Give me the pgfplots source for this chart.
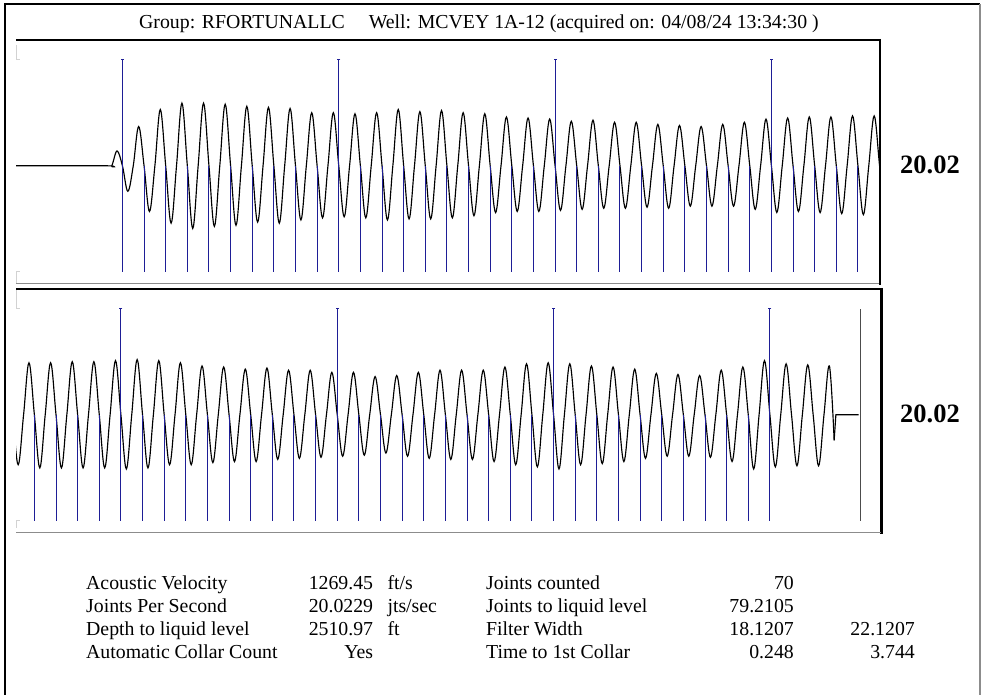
\documentclass[border=0pt]{standalone}
\usepackage{pgfplots}
\pgfplotsset{compat=1.18}
\usepackage{fontspec}
\setmainfont{Liberation Serif}

\definecolor{collar}{RGB}{30,30,150}
\definecolor{edgegray}{RGB}{140,140,140}

\pgfplotsset{
  panel/.style={
    width=864bp, height=244bp, scale only axis,
    hide axis, clip=true, anchor=south west,
    ymin=-1.113, ymax=1.185,
  },
  wave/.style={black, line width=1.15bp, smooth, tension=0.6, no marks},
  short/.style={collar, line width=1bp, ycomb, no marks},
  long/.style={collar, line width=1bp, ycomb, mark=-, mark size=1.5bp, mark options={solid}},
}

\begin{document}
\begin{tikzpicture}[x=1bp,y=1bp]
\path[use as bounding box] (0,0) rectangle (984,695);

% outer frame
\draw[black, line width=1.5bp] (5,0) -- (5,691) -- (980,691);
\draw[edgegray, line width=1.5bp] (980,691) -- (980,0);

\node[anchor=base west, inner sep=0, font=\fontsize{19.8bp}{23bp}\selectfont]
  at (139,666.7) {Group: RFORTUNALLC\hspace{24bp}Well: MCVEY 1A-12 (acquired on: 04/08/24 13:34:30 )};

% ---------- top panel ----------
\begin{axis}[panel, at={(16bp,411bp)}, xmin=-3.92, xmax=36.02]
\addplot[wave] coordinates {
(-3.92,0) (0.25,0) (0.5,0)
(0.75,0.14) (1,0) (1.25,-0.24) (1.5,0)
(1.75,0.37) (2,0) (2.25,-0.43) (2.5,0)
(2.75,0.53) (3,0) (3.25,-0.54) (3.5,0)
(3.75,0.59) (4,0) (4.25,-0.59) (4.5,0)
(4.75,0.59) (5,0) (5.25,-0.57) (5.5,0)
(5.75,0.58) (6,0) (6.25,-0.56) (6.5,0)
(6.75,0.56) (7,0) (7.25,-0.53) (7.5,0)
(7.75,0.55) (8,0) (8.25,-0.54) (8.5,0)
(8.75,0.54) (9,0) (9.25,-0.51) (9.5,0)
(9.75,0.50) (10,0) (10.25,-0.49) (10.5,0)
(10.75,0.50) (11,0) (11.25,-0.48) (11.5,0)
(11.75,0.49) (12,0) (12.25,-0.49) (12.5,0)
(12.75,0.50) (13,0) (13.25,-0.51) (13.5,0)
(13.75,0.53) (14,0) (14.25,-0.50) (14.5,0)
(14.75,0.51) (15,0) (15.25,-0.50) (15.5,0)
(15.75,0.52) (16,0) (16.25,-0.49) (16.5,0)
(16.75,0.50) (17,0) (17.25,-0.47) (17.5,0)
(17.75,0.49) (18,0) (18.25,-0.44) (18.5,0)
(18.75,0.46) (19,0) (19.25,-0.43) (19.5,0)
(19.75,0.45) (20,0) (20.25,-0.43) (20.5,0)
(20.75,0.44) (21,0) (21.25,-0.42) (21.5,0)
(21.75,0.42) (22,0) (22.25,-0.41) (22.5,0)
(22.75,0.43) (23,0) (23.25,-0.40) (23.5,0)
(23.75,0.41) (24,0) (24.25,-0.40) (24.5,0)
(24.75,0.41) (25,0) (25.25,-0.39) (25.5,0)
(25.75,0.39) (26,0) (26.25,-0.40) (26.5,0)
(26.75,0.38) (27,0) (27.25,-0.38) (27.5,0)
(27.75,0.37) (28,0) (28.25,-0.38) (28.5,0)
(28.75,0.39) (29,0) (29.25,-0.38) (29.5,0)
(29.75,0.41) (30,0) (30.25,-0.41) (30.5,0)
(30.75,0.44) (31,0) (31.25,-0.44) (31.5,0)
(31.75,0.45) (32,0) (32.25,-0.43) (32.5,0)
(32.75,0.46) (33,0) (33.25,-0.44) (33.5,0)
(33.75,0.46) (34,0) (34.25,-0.45) (34.5,0)
(34.75,0.47) (35,0) (35.25,-0.46) (35.5,0)
(35.75,0.47) (36,0) (36.25,-0.47)
};
\addplot[short] coordinates {
(1,-1)(2,-1)(3,-1)(4,-1)(5,-1)(6,-1)(7,-1)(8,-1)(9,-1)(10,-1)
(11,-1)(12,-1)(13,-1)(14,-1)(15,-1)(16,-1)(17,-1)(18,-1)(19,-1)(20,-1)
(21,-1)(22,-1)(23,-1)(24,-1)(25,-1)(26,-1)(27,-1)(28,-1)(29,-1)(30,-1)
(31,-1)(32,-1)(33,-1)(34,-1)(35,-1)(36,-1)
};
\addplot[long] coordinates {(1,1)(11,1)(21,1)(31,1)};
\end{axis}

% ---------- bottom panel ----------
\begin{axis}[panel, at={(16bp,162bp)}, xmin=36.15, xmax=76.09]
\addplot[wave] coordinates {
(35.75,0.47) (36,0) (36.25,-0.47) (36.5,0)
(36.75,0.49) (37,0) (37.25,-0.50) (37.5,0)
(37.75,0.49) (38,0) (38.25,-0.50) (38.5,0)
(38.75,0.50) (39,0) (39.25,-0.50) (39.5,0)
(39.75,0.50) (40,0) (40.25,-0.50) (40.5,0)
(40.75,0.51) (41,0) (41.25,-0.51) (41.5,0)
(41.75,0.52) (42,0) (42.25,-0.50) (42.5,0)
(42.75,0.51) (43,0) (43.25,-0.47) (43.5,0)
(43.75,0.49) (44,0) (44.25,-0.47) (44.5,0)
(44.75,0.46) (45,0) (45.25,-0.45) (45.5,0)
(45.75,0.45) (46,0) (46.25,-0.44) (46.5,0)
(46.75,0.43) (47,0) (47.25,-0.44) (47.5,0)
(47.75,0.44) (48,0) (48.25,-0.42) (48.5,0)
(48.75,0.42) (49,0) (49.25,-0.41) (49.5,0)
(49.75,0.42) (50,0) (50.25,-0.40) (50.5,0)
(50.75,0.40) (51,0) (51.25,-0.39) (51.5,0)
(51.75,0.40) (52,0) (52.25,-0.38) (52.5,0)
(52.75,0.36) (53,0) (53.25,-0.36) (53.5,0)
(53.75,0.37) (54,0) (54.25,-0.39) (54.5,0)
(54.75,0.40) (55,0) (55.25,-0.41) (55.5,0)
(55.75,0.42) (56,0) (56.25,-0.42) (56.5,0)
(56.75,0.42) (57,0) (57.25,-0.42) (57.5,0)
(57.75,0.42) (58,0) (58.25,-0.44) (58.5,0)
(58.75,0.45) (59,0) (59.25,-0.47) (59.5,0)
(59.75,0.48) (60,0) (60.25,-0.49) (60.5,0)
(60.75,0.49) (61,0) (61.25,-0.51) (61.5,0)
(61.75,0.48) (62,0) (62.25,-0.47) (62.5,0)
(62.75,0.46) (63,0) (63.25,-0.46) (63.5,0)
(63.75,0.45) (64,0) (64.25,-0.44) (64.5,0)
(64.75,0.43) (65,0) (65.25,-0.41) (65.5,0)
(65.75,0.39) (66,0) (66.25,-0.39) (66.5,0)
(66.75,0.38) (67,0) (67.25,-0.39) (67.5,0)
(67.75,0.37) (68,0) (68.25,-0.40) (68.5,0)
(68.75,0.42) (69,0) (69.25,-0.44) (69.5,0)
(69.75,0.45) (70,0) (70.25,-0.51) (70.5,0)
(70.75,0.51) (71,0) (71.25,-0.49) (71.5,0)
(71.75,0.48) (72,0) (72.25,-0.48) (72.5,0)
(72.75,0.47) (73,0) (73.25,-0.48) (73.5,0)
(73.75,0.46) (73.97,-0.24)
};
\addplot[black, line width=1.15bp, no marks] coordinates {(73.97,-0.24) (74.05,0) (75.1,0)};
\addplot[short] coordinates {
(37,-1)(38,-1)(39,-1)(40,-1)(41,-1)(42,-1)(43,-1)(44,-1)(45,-1)(46,-1)
(47,-1)(48,-1)(49,-1)(50,-1)(51,-1)(52,-1)(53,-1)(54,-1)(55,-1)(56,-1)
(57,-1)(58,-1)(59,-1)(60,-1)(61,-1)(62,-1)(63,-1)(64,-1)(65,-1)(66,-1)
(67,-1)(68,-1)(69,-1)(70,-1)(71,-1)
};
\addplot[long] coordinates {(41,1)(51,1)(61,1)(71,1)};
% liquid level
\addplot[black!70, line width=0.7bp, no marks] coordinates {(75.2,-1) (75.2,1)};
\end{axis}

% panel edges (sunken look)
\draw[black, line width=2.5bp] (16,655) -- (881,655);
\draw[black, line width=2.5bp] (880,656) -- (880,410);
\draw[edgegray, line width=1.5bp] (16,411.5) -- (879,411.5);
\draw[black, line width=2.5bp] (16,406) -- (882,406);
\draw[black, line width=2.5bp] (881.5,407) -- (881.5,161);
\draw[edgegray, line width=1.5bp] (16,162.5) -- (880.5,162.5);

% faint inner corner marks
\draw[gray!35, line width=1bp] (16.5,650) -- (16.5,635.7) -- (19.5,635.7);
\draw[gray!35, line width=1bp] (16.5,412) -- (16.5,423) -- (19.5,423);
\draw[gray!35, line width=1bp] (16.5,405) -- (16.5,386) -- (19.5,386);
\draw[gray!35, line width=1bp] (16.5,167) -- (16.5,174) -- (19.5,174);

% joints per second labels
\node[anchor=base west, inner sep=0, font=\fontsize{26.5bp}{30bp}\selectfont\bfseries] at (900,521) {20.02};
\node[anchor=base west, inner sep=0, font=\fontsize{26.5bp}{30bp}\selectfont\bfseries] at (900,272) {20.02};

% results table
\begin{scope}[every node/.style={inner sep=0, font=\fontsize{19.8bp}{23bp}\selectfont}]
\node[anchor=base west] at (86,105) {Acoustic Velocity};
\node[anchor=base west] at (86,82) {Joints Per Second};
\node[anchor=base west] at (86,59) {Depth to liquid level};
\node[anchor=base west] at (86,36) {Automatic Collar Count};
\node[anchor=base east] at (373.3,105) {1269.45};
\node[anchor=base east] at (373.3,82) {20.0229};
\node[anchor=base east] at (373.3,59) {2510.97};
\node[anchor=base east] at (373.3,36) {Yes};
\node[anchor=base west] at (387.3,105) {ft/s};
\node[anchor=base west] at (387.3,82) {jts/sec};
\node[anchor=base west] at (387.3,59) {ft};
\node[anchor=base west] at (486,105) {Joints counted};
\node[anchor=base west] at (486,82) {Joints to liquid level};
\node[anchor=base west] at (486,59) {Filter Width};
\node[anchor=base west] at (486,36) {Time to 1st Collar};
\node[anchor=base east] at (794,105) {70};
\node[anchor=base east] at (794,82) {79.2105};
\node[anchor=base east] at (794,59) {18.1207};
\node[anchor=base east] at (794,36) {0.248};
\node[anchor=base east] at (915,59) {22.1207};
\node[anchor=base east] at (915,36) {3.744};
\end{scope}
\end{tikzpicture}
\end{document}
